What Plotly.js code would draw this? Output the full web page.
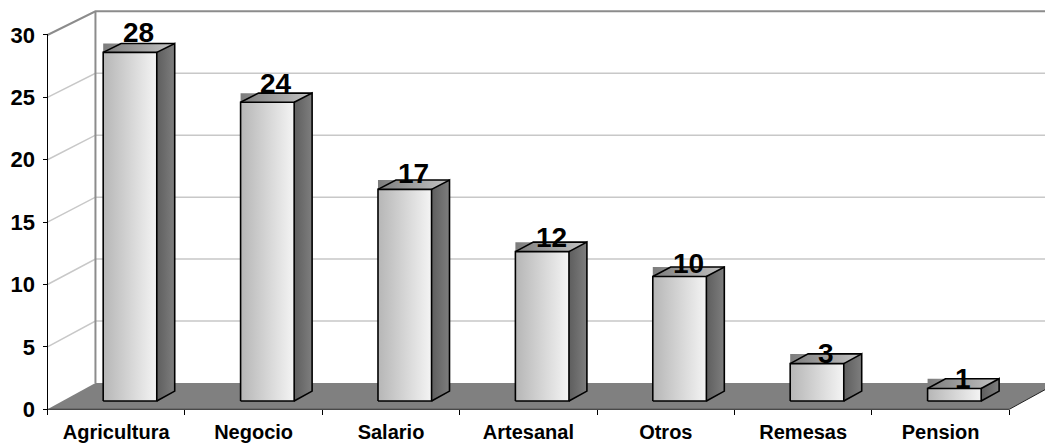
<!DOCTYPE html>
<html>
<head>
<meta charset="utf-8">
<script src="https://cdn.plot.ly/plotly-3.0.1.min.js"></script>
<style>html,body{margin:0;padding:0;background:#fff;}#chart{width:1045px;height:443px;}</style>
</head>
<body>
<div id="chart"></div>
<script>
// ---- data ----
const categories = ['Agricultura', 'Negocio', 'Salario', 'Artesanal', 'Otros', 'Remesas', 'Pension'];
const values = [28, 24, 17, 12, 10, 3, 1];
const yTickVals = [0, 5, 10, 15, 20, 25, 30];
const yTickText = ['0', '5', '10', '15', '20', '25', '30'];

// ---- geometry (oblique 3D projection in data units) ----
const W = 1045, H = 443;
const ML = 40, MB = 30;
const PX_X = 137.4, PX_Y = 12.477;
const X0PX = 47.5, Y0PX = 409.3;
const DEPTH_X = 0.349, DEPTH_Y = 2.11, BACK_SCALE = 0.993;
const BAR_X0 = 0.295, BAR_X1 = 0.685, BAR_F0 = 0.316, BAR_F1 = 0.69;
const n = categories.length;
const vMax = yTickVals[yTickVals.length - 1];

function proj(x, v, f) {
  return [x + f * DEPTH_X, v * (1 - f * (1 - BACK_SCALE)) + f * DEPTH_Y];
}
function poly(pts, close) {
  const xs = [], ys = [];
  pts.forEach(p => { if (p === null) { xs.push(null); ys.push(null); } else { xs.push(p[0]); ys.push(p[1]); } });
  if (close) { xs.push(pts[0][0]); ys.push(pts[0][1]); }
  return {x: xs, y: ys};
}

const plotW = W - ML, plotH = H - MB;
const xRange = [-(X0PX - ML) / PX_X, (W - X0PX) / PX_X];
const yRange = [-(H - MB - Y0PX) / PX_Y, Y0PX / PX_Y];

const traces = [];
const base = {type: 'scatter', mode: 'lines', hoverinfo: 'skip', showlegend: false, xaxis: 'x', yaxis: 'y'};

// floor
let p = poly([proj(0, 0, 0), proj(n, 0, 0), proj(n, 0, 1), proj(0, 0, 1)], true);
traces.push(Object.assign({}, base, {x: p.x, y: p.y, fill: 'toself', fillcolor: '#808080', line: {width: 0, color: 'rgba(0,0,0,0)'}}));

// wall gridlines
let gx = [], gy = [];
yTickVals.forEach(v => {
  if (v === 0 || v === vMax) return;
  const a = proj(0, v, 0), b = proj(0, v, 1), c = proj(n, v, 1);
  gx.push(a[0], b[0], c[0], null); gy.push(a[1], b[1], c[1], null);
});
traces.push(Object.assign({}, base, {x: gx, y: gy, line: {color: '#c8c8c8', width: 1.5}}));

// wall top edge and back-left edge
p = poly([proj(0, vMax, 0), proj(0, vMax, 1), proj(n, vMax, 1), null, proj(0, 0, 1), proj(0, vMax, 1)], false);
traces.push(Object.assign({}, base, {x: p.x, y: p.y, line: {color: '#8c8c8c', width: 2}}));

// front value axis line
p = poly([proj(0, 0, 0), proj(0, vMax, 0)], false);
traces.push(Object.assign({}, base, {x: p.x, y: p.y, line: {color: '#000', width: 1}}));

// floor front and right edges
p = poly([proj(0, 0, 0), proj(n, 0, 0), proj(n, 0, 1)], false);
traces.push(Object.assign({}, base, {x: p.x, y: p.y, line: {color: '#222', width: 1}}));

// bars
const annotations = [];
values.forEach((v, i) => {
  const x0 = i + BAR_X0, x1 = i + BAR_X1;
  const fbl = proj(x0, 0, BAR_F0), fbr = proj(x1, 0, BAR_F0), ftr = proj(x1, v, BAR_F0), ftl = proj(x0, v, BAR_F0);
  const bbr = proj(x1, 0, BAR_F1), btr = proj(x1, v, BAR_F1), btl = proj(x0, v, BAR_F1);
  // top face bounding box (grey)
  const rx0 = ftl[0], rx1 = btr[0], ry0 = ftl[1], ry1 = btr[1];
  p = poly([[rx0, ry0], [rx1, ry0], [rx1, ry1], [rx0, ry1]], true);
  traces.push(Object.assign({}, base, {x: p.x, y: p.y, fill: 'toself', line: {width: 0, color: 'rgba(0,0,0,0)'},
    fillgradient: {type: 'horizontal', start: rx0, stop: rx1, colorscale: [[0, '#7c7c7c'], [1, '#c4c4c4']]}}));
  // side face
  p = poly([fbr, bbr, btr, ftr], true);
  traces.push(Object.assign({}, base, {x: p.x, y: p.y, fill: 'toself', line: {width: 0, color: 'rgba(0,0,0,0)'},
    fillgradient: {type: 'horizontal', start: fbr[0], stop: bbr[0], colorscale: [[0, '#5e5e5e'], [1, '#7e7e7e']]}}));
  // front face
  p = poly([fbl, fbr, ftr, ftl], true);
  traces.push(Object.assign({}, base, {x: p.x, y: p.y, fill: 'toself', line: {width: 0, color: 'rgba(0,0,0,0)'},
    fillgradient: {type: 'horizontal', start: fbl[0], stop: fbr[0], colorscale: [[0, '#b6b6b6'], [1, '#f4f4f4']]}}));
  // outlines
  p = poly([fbl, fbr, ftr, ftl, fbl, null, fbr, bbr, btr, ftr, null, ftl, btl, btr], false);
  traces.push(Object.assign({}, base, {x: p.x, y: p.y, line: {color: '#000', width: 1.6}}));
  // value label
  const c = proj((x0 + x1) / 2, v, (BAR_F0 + BAR_F1) / 2);
  annotations.push({x: c[0], y: v + BAR_F0 * DEPTH_Y + 0.028 * v, xref: 'x', yref: 'y', text: String(v),
    showarrow: false, yanchor: 'bottom', xanchor: 'center', yshift: -8,
    font: {family: 'Arial, "Liberation Sans", sans-serif', size: 28, weight: 700, color: '#000'}});
});

// category axis helpers
const boundaries = categories.map((_, i) => i).concat([n]);
const centers = categories.map((_, i) => i + 0.5);

const font = 'Arial, "Liberation Sans", sans-serif';
const xPos = (X0PX - ML) / plotW;
const yPos = (H - MB - Y0PX) / plotH;

const layout = {
  width: W, height: H,
  margin: {l: ML, r: 0, t: 0, b: MB, pad: 0},
  paper_bgcolor: '#fff', plot_bgcolor: '#fff',
  showlegend: false,
  xaxis: {range: xRange, showgrid: false, zeroline: false, showline: false,
    tickmode: 'array', tickvals: boundaries, ticks: 'outside', ticklen: 5, tickwidth: 1, tickcolor: '#000',
    showticklabels: false, anchor: 'free', position: yPos, fixedrange: true},
  xaxis2: {range: xRange, overlaying: 'x', showgrid: false, zeroline: false, showline: false,
    tickmode: 'array', tickvals: centers, ticktext: categories, ticks: '', ticklabelstandoff: 9,
    tickfont: {family: font, size: 20, weight: 700, color: '#000'}, anchor: 'free', position: yPos, side: 'bottom', fixedrange: true},
  yaxis: {range: yRange, showgrid: false, zeroline: false, showline: false,
    tickmode: 'array', tickvals: yTickVals, ticktext: yTickText, ticks: 'outside', ticklen: 5, tickwidth: 1, tickcolor: '#000',
    tickfont: {family: font, size: 22, weight: 700, color: '#000'}, ticklabelstandoff: 3,
    anchor: 'free', position: xPos, fixedrange: true},
  annotations: annotations
};

// dummy trace to activate xaxis2
traces.push({type: 'scatter', mode: 'markers', x: [centers[0]], y: [0], xaxis: 'x2', yaxis: 'y',
  marker: {opacity: 0, size: 1}, hoverinfo: 'skip', showlegend: false});

Plotly.newPlot('chart', traces, layout, {displayModeBar: false, staticPlot: true});
</script>
</body>
</html>
